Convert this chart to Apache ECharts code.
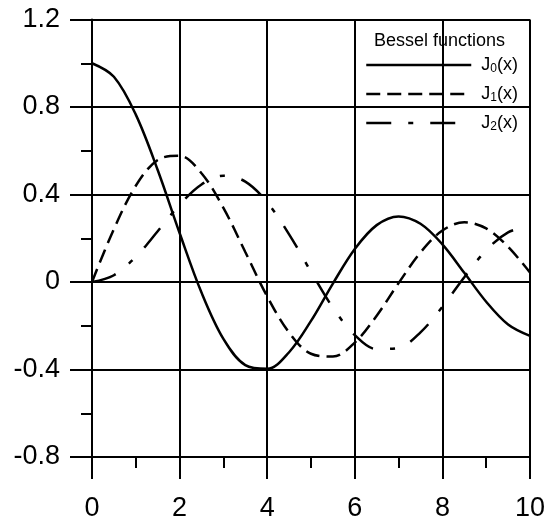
<!DOCTYPE html>
<html>
<head>
<meta charset="utf-8">
<script src="https://cdn.jsdelivr.net/npm/echarts@6/dist/echarts.min.js"></script>
<style>
  html, body { margin: 0; padding: 0; background: #fff; }
  #main { width: 548px; height: 524px; }
</style>
</head>
<body>
<div id="main"></div>
<script>
// x values and the three curves
var xs = [0, 0.5, 1, 1.5, 2, 2.5, 3, 3.5, 4, 4.5, 5, 5.5, 6, 6.5, 7, 7.5, 8, 8.5, 9, 9.5, 10];
var j0 = [1, 0.938, 0.765, 0.512, 0.224, -0.048, -0.260, -0.380, -0.397, -0.321, -0.178, -0.007, 0.151, 0.260, 0.300, 0.266, 0.172, 0.042, -0.090, -0.194, -0.246];
var j1 = [0, 0.242, 0.440, 0.558, 0.577, 0.497, 0.339, 0.137, -0.066, -0.231, -0.328, -0.341, -0.277, -0.154, -0.005, 0.135, 0.235, 0.273, 0.245, 0.161, 0.043];
var j2 = [0, 0.031, 0.115, 0.232, 0.353, 0.446, 0.486, 0.459, 0.364, 0.218, 0.047, -0.117, -0.243, -0.307, -0.301, -0.230, -0.113, 0.022, 0.145, 0.227, 0.255];
var names = ['J0', 'J1', 'J2'];
var dashes = ['solid', [14, 7], [25, 17, 5, 17]];

var FONT = 'Liberation Sans, Arial, sans-serif';
var BLACK = '#000';

function pairs(ys) {
    return xs.map(function (x, i) { return [x, ys[i]]; });
}

var myChart = echarts.init(document.getElementById('main'));

var option = {
    backgroundColor: '#fff',
    animation: false,
    title: {
        text: 'Bessel functions',
        left: 374,
        top: 32,
        padding: 0,
        textStyle: { fontFamily: FONT, fontSize: 18, fontWeight: 'normal', color: BLACK }
    },
    legend: {
        orient: 'vertical',
        left: 365,
        top: 56,
        padding: 0,
        itemWidth: 105,
        itemHeight: 20,
        itemGap: 10,
        data: names,
        lineStyle: { width: 2.5 },
        itemStyle: { opacity: 0 },
        formatter: function (name) {
            return '{g|}{a|J}{s|' + name.slice(1) + '}{a|(x)}';
        },
        textStyle: {
            fontFamily: FONT,
            color: BLACK,
            rich: {
                g: { width: 5 },
                a: { fontFamily: FONT, fontSize: 18, color: BLACK },
                s: { fontFamily: FONT, fontSize: 12, color: BLACK, padding: [8, 0, 0, 0] }
            }
        }
    },
    grid: { left: 92, right: 17, top: 19.5, bottom: 67 },
    xAxis: {
        type: 'value',
        min: 0,
        max: 10,
        interval: 2,
        axisLine: { onZero: false, lineStyle: { color: BLACK, width: 2 } },
        axisTick: { length: 22, lineStyle: { color: BLACK, width: 2 } },
        minorTick: { show: true, splitNumber: 2, length: 11, lineStyle: { color: BLACK, width: 2 } },
        splitLine: { show: true, lineStyle: { color: BLACK, width: 2 } },
        axisLabel: { color: BLACK, fontFamily: FONT, fontSize: 27, margin: 38 }
    },
    yAxis: {
        type: 'value',
        min: -0.8,
        max: 1.2,
        interval: 0.4,
        axisLine: { show: true, onZero: false, lineStyle: { color: BLACK, width: 2 } },
        axisTick: { show: true, length: 22, lineStyle: { color: BLACK, width: 2 } },
        minorTick: { show: true, splitNumber: 2, length: 11, lineStyle: { color: BLACK, width: 2 } },
        splitLine: { show: true, lineStyle: { color: BLACK, width: 2 } },
        axisLabel: { color: BLACK, fontFamily: FONT, fontSize: 27, margin: 32 }
    },
    series: names.map(function (n, i) {
        return {
            name: n,
            type: 'line',
            data: pairs([j0, j1, j2][i]),
            smooth: 0.35,
            symbol: 'none',
            color: BLACK,
            lineStyle: { color: BLACK, width: 2.5, type: dashes[i] }
        };
    })
};

myChart.setOption(option);
</script>
</body>
</html>
